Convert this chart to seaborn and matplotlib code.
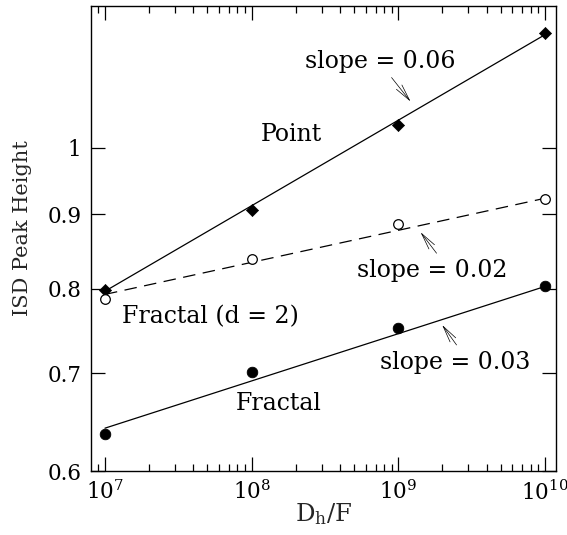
import numpy as np
import pandas as pd
import matplotlib
matplotlib.use("Agg")
import matplotlib.pyplot as plt
import seaborn as sns
from matplotlib.ticker import LogLocator, FixedLocator, FixedFormatter, NullLocator, NullFormatter

# ---- data ----
x_vals = [1e7, 1e8, 1e9, 1e10]
point_vals = [0.799, 0.906, 1.037, 1.199]
fractal_d2_vals = [0.787, 0.838, 0.886, 0.922]
fractal_vals = [0.636, 0.701, 0.752, 0.804]

fit_x = [1e7, 1e10]
fit_point = [0.797, 1.195]
fit_fractal_d2 = [0.793, 0.923]
fit_fractal = [0.642, 0.803]

y_ticks = [0.6, 0.7, 0.8, 0.9, 1.0]
y_tick_labels = ["0.6", "0.7", "0.8", "0.9", "1"]
x_ticks = [1e7, 1e8, 1e9, 1e10]
x_tick_labels = ["$10^{7}$", "$10^{8}$", "$10^{9}$", "$10^{10}$"]

# ---- style ----
sns.set_style("ticks")
plt.rcParams['font.family'] = ['DejaVu Serif']
plt.rcParams['mathtext.fontset'] = 'dejavuserif'

fig = plt.figure(figsize=(5.67, 5.35), dpi=100)
ax = fig.add_axes([0.1605, 0.1196, 0.8201, 0.8697])

df_fit = pd.DataFrame({
    "x": fit_x * 3,
    "y": fit_point + fit_fractal_d2 + fit_fractal,
    "series": ["Point"] * 2 + ["Fractal (d = 2)"] * 2 + ["Fractal"] * 2,
})

sns.lineplot(data=df_fit[df_fit.series == "Point"], x="x", y="y", ax=ax,
             color="black", lw=0.9, legend=False)
sns.lineplot(data=df_fit[df_fit.series == "Fractal (d = 2)"], x="x", y="y", ax=ax,
             color="black", lw=0.9, legend=False, dashes=False)
ax.lines[-1].set_dashes([10, 6])
sns.lineplot(data=df_fit[df_fit.series == "Fractal"], x="x", y="y", ax=ax,
             color="black", lw=0.9, legend=False)

sns.scatterplot(x=x_vals, y=point_vals, ax=ax, marker="D", s=38,
                color="black", edgecolor="black", zorder=5)
sns.scatterplot(x=x_vals, y=fractal_d2_vals, ax=ax, marker="o", s=48,
                facecolor="white", edgecolor="black", linewidth=0.9, zorder=5)
sns.scatterplot(x=x_vals, y=fractal_vals, ax=ax, marker="o", s=58,
                color="black", edgecolor="black", zorder=5)

ax.set_xscale("log")
ax.set_yscale("log")
ax.set_xlim(8.03e6, 1.19e10)
ax.set_ylim(0.6, 1.251)

ax.xaxis.set_major_locator(FixedLocator(x_ticks))
ax.xaxis.set_major_formatter(FixedFormatter(x_tick_labels))
ax.xaxis.set_minor_locator(LogLocator(base=10, subs=np.arange(2, 10)))
ax.xaxis.set_minor_formatter(NullFormatter())
ax.yaxis.set_major_locator(FixedLocator(y_ticks))
ax.yaxis.set_major_formatter(FixedFormatter(y_tick_labels))
ax.yaxis.set_minor_locator(NullLocator())

ax.tick_params(which="both", direction="in", top=True, right=True,
               labelsize=15.5, width=0.9, colors="black")
ax.tick_params(which="major", length=10, pad=7)
ax.tick_params(which="minor", length=5)
for s in ax.spines.values():
    s.set_linewidth(1.0)
    s.set_color("black")

ax.set_xlabel("D$_\\mathregular{h}$/F", fontsize=17.5, labelpad=-3)
ax.set_ylabel("ISD Peak Height", fontsize=15)
ax.yaxis.set_label_coords(-0.127, 0.522)

def fx(px):
    return 10 ** (7 + (px - 105) / 146.7)

def fy(py):
    return 10 ** (np.log10(0.6) + (471 - py) / 1457.5)

txt = dict(fontsize=17, ha="center", va="center", color="black")
ax.text(fx(380), fy(62), "slope = 0.06", **txt)
ax.text(fx(291), fy(135), "Point", **txt)
ax.text(fx(432), fy(271), "slope = 0.02", **txt)
ax.text(fx(210), fy(317), "Fractal (d = 2)", **txt)
ax.text(fx(455), fy(363), "slope = 0.03", **txt)
ax.text(fx(279), fy(404), "Fractal", **txt)

arr = dict(arrowstyle="->,head_length=1.2,head_width=0.25", lw=0.5, color="black",
           shrinkA=0, shrinkB=0)
ax.annotate("", xy=(fx(410.7), fy(101.7)), xytext=(fx(391.7), fy(77.7)), arrowprops=arr)
ax.annotate("", xy=(fx(420.7), fy(232.3)), xytext=(fx(436.7), fy(253.3)), arrowprops=arr)
ax.annotate("", xy=(fx(442.3), fy(325)), xytext=(fx(456.7), fy(345)), arrowprops=arr)

fig.savefig("out.png", dpi=100)
